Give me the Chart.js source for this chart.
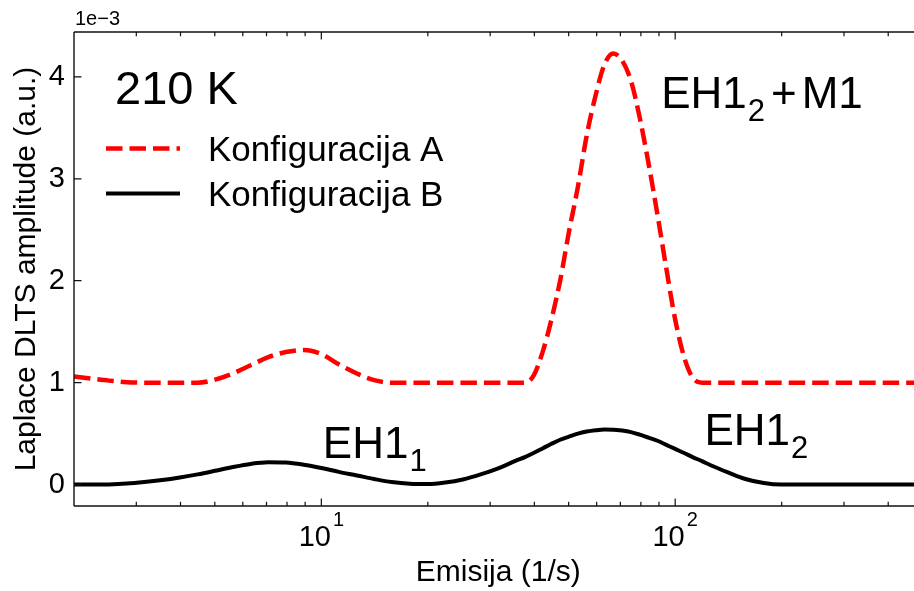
<!DOCTYPE html>
<html><head><meta charset="utf-8">
<script src="https://cdn.jsdelivr.net/npm/chart.js@4.4.1/dist/chart.umd.min.js"></script>
<style>html,body{margin:0;padding:0;background:#fff;overflow:hidden;width:914px;height:591px}canvas{display:block}</style>
</head><body>
<canvas id="c" width="926" height="591"></canvas>
<script>
// ---- data (amplitudes in units of 1e-3) ----
const emission = [2.0, 2.24, 2.51, 2.82, 3.16, 3.55, 3.98, 4.47, 5.01, 5.62, 6.31, 7.08, 7.94, 8.91, 10.0, 11.2, 12.6, 14.1, 15.8, 17.8, 20.0, 22.4, 25.1, 28.2, 31.6, 35.5,
  37.6, 39.8, 42.2, 44.7, 47.3, 50.1, 53.1, 56.2, 59.6, 63.1, 66.8, 70.8, 75.0, 79.4, 84.1, 89.1, 94.4, 100, 106, 112, 119, 126,
  141, 158, 178, 200, 224, 251, 282, 316, 355, 398, 447, 501];
const configA = [1.06, 1.04, 1.02, 1.005, 1.0, 1.0, 1.0, 1.0, 1.03, 1.09, 1.17, 1.25, 1.30, 1.32, 1.28, 1.18, 1.09, 1.025, 1.0, 1.0, 1.0, 1.0, 1.0, 1.0, 1.0, 1.0,
  1.0, 1.07, 1.30, 1.62, 2.0, 2.48, 2.92, 3.42, 3.82, 4.12, 4.23, 4.16, 3.96, 3.60, 3.15, 2.65, 2.12, 1.62, 1.25, 1.05, 1.0, 1.0,
  1.0, 1.0, 1.0, 1.0, 1.0, 1.0, 1.0, 1.0, 1.0, 1.0, 1.0, 1.0];
const configB = [0.0, 0.0, 0.002, 0.01, 0.025, 0.045, 0.07, 0.10, 0.135, 0.172, 0.203, 0.219, 0.216, 0.195, 0.163, 0.125, 0.09, 0.055, 0.025, 0.008, 0.005, 0.02, 0.05, 0.10, 0.16, 0.235,
  0.27, 0.31, 0.355, 0.40, 0.44, 0.47, 0.50, 0.52, 0.533, 0.54, 0.539, 0.53, 0.515, 0.49, 0.46, 0.43, 0.39, 0.35, 0.31, 0.27, 0.23, 0.19,
  0.12, 0.055, 0.015, 0.0, 0.0, 0.0, 0.0, 0.0, 0.0, 0.0, 0.0, 0.0];
const seriesLabels = ['Konfiguracija A', 'Konfiguracija B'];
const yTickValues = [0, 1, 2, 3, 4];
const xMajorTicks = [10, 100];
const xMajorExponents = ['1', '2'];
const xMinorTicks = [3, 4, 5, 6, 7, 8, 9, 20, 30, 40, 50, 60, 70, 80, 90, 200, 300, 400];
const yOffsetText = '1e\u22123';
const xTitle = 'Emisija (1/s)';
const yTitle = 'Laplace DLTS amplitude (a.u.)';
const temperatureLabel = '210 K';
const peakLabels = [
  {base: 'EH1', sub: '1', tail: ''},
  {base: 'EH1', sub: '2', tail: ''},
  {base: 'EH1', sub: '2', tail: 'M1'}
];

// ---- styling / placement ----
const FONT = '"Liberation Sans", Arial, Helvetica, sans-serif';
const peakPlacement = [
  {x: 10.1, y: 0.258},
  {x: 121, y: 0.388},
  {x: 91.3, y: 3.69}
];

const decorPlugin = {
  id: 'decor',
  afterDatasetsDraw(chart) {
    const {ctx, chartArea: ca, scales: {x, y}} = chart;
    ctx.save();
    ctx.strokeStyle = '#111';
    ctx.lineWidth = 1.4;
    ctx.beginPath();
    ctx.moveTo(ca.left, ca.top); ctx.lineTo(ca.right, ca.top);
    ctx.moveTo(ca.left, ca.bottom); ctx.lineTo(ca.right, ca.bottom);
    ctx.moveTo(ca.left, ca.top); ctx.lineTo(ca.left, ca.bottom);
    ctx.moveTo(ca.right, ca.top); ctx.lineTo(ca.right, ca.bottom);
    ctx.stroke();
    ctx.lineWidth = 1.2;
    ctx.beginPath();
    const tick = (v, len) => {
      const px = x.getPixelForValue(v);
      ctx.moveTo(px, ca.bottom); ctx.lineTo(px, ca.bottom - len);
      ctx.moveTo(px, ca.top); ctx.lineTo(px, ca.top + len);
    };
    xMajorTicks.forEach(v => tick(v, 7.5));
    xMinorTicks.forEach(v => tick(v, 4.2));
    yTickValues.forEach(v => {
      const py = y.getPixelForValue(v);
      ctx.moveTo(ca.left, py); ctx.lineTo(ca.left + 7.5, py);
      ctx.moveTo(ca.right, py); ctx.lineTo(ca.right - 7.5, py);
    });
    ctx.stroke();
    ctx.restore();
  },
  afterDraw(chart) {
    const {ctx, chartArea: ca, scales: {x, y}} = chart;
    ctx.save();
    ctx.fillStyle = '#000';
    ctx.textBaseline = 'alphabetic';
    ctx.textAlign = 'left';
    xMajorTicks.forEach((v, i) => {
      const px = x.getPixelForValue(v);
      ctx.font = '29px ' + FONT;
      const w1 = ctx.measureText('10').width;
      ctx.font = '20px ' + FONT;
      const w2 = ctx.measureText(xMajorExponents[i]).width;
      const start = px - (w1 + 2 + w2) / 2;
      ctx.font = '29px ' + FONT;
      ctx.fillText('10', start, ca.bottom + 40);
      ctx.font = '20px ' + FONT;
      ctx.fillText(xMajorExponents[i], start + w1 + 2, ca.bottom + 20);
    });
    ctx.font = '20px ' + FONT;
    ctx.fillText(yOffsetText, ca.left + 1, ca.top - 7);
    ctx.font = '47px ' + FONT;
    ctx.fillText(temperatureLabel, ca.left + 41, ca.top + 71.5);
    peakLabels.forEach((p, i) => {
      const px = x.getPixelForValue(peakPlacement[i].x);
      const py = y.getPixelForValue(peakPlacement[i].y);
      ctx.font = '44px ' + FONT;
      ctx.fillText(p.base, px, py);
      let cx = px + ctx.measureText(p.base).width + 1;
      ctx.font = '31px ' + FONT;
      ctx.fillText(p.sub, cx, py + 13);
      cx += ctx.measureText(p.sub).width;
      if (p.tail) {
        ctx.font = '44px ' + FONT;
        cx += 6;
        ctx.fillText('+', cx, py);
        cx += ctx.measureText('+').width + 5;
        ctx.fillText(p.tail, cx, py);
      }
    });
    chart.data.datasets.forEach((ds, i) => {
      const rowY = ca.top + 116.6 + i * 45;
      ctx.save();
      ctx.strokeStyle = ds.borderColor;
      ctx.lineWidth = ds.borderWidth;
      ctx.setLineDash(ds.borderDash || []);
      ctx.lineCap = 'butt';
      ctx.beginPath();
      ctx.moveTo(ca.left + 32, rowY);
      ctx.lineTo(ca.left + 106, rowY);
      ctx.stroke();
      ctx.restore();
      ctx.font = '35px ' + FONT;
      ctx.fillText(ds.label, ca.left + 134, rowY + 12);
    });
    ctx.restore();
  }
};

new Chart(document.getElementById('c'), {
  type: 'line',
  data: {
    datasets: [
      {label: seriesLabels[0], data: emission.map((e, i) => ({x: e, y: configA[i]})),
       borderColor: '#ff0000', borderWidth: 4.5, borderDash: [16.5, 7], borderCapStyle: 'butt',
       pointRadius: 0, cubicInterpolationMode: 'monotone', fill: false},
      {label: seriesLabels[1], data: emission.map((e, i) => ({x: e, y: configB[i]})),
       borderColor: '#000000', borderWidth: 4, borderCapStyle: 'butt',
       pointRadius: 0, cubicInterpolationMode: 'monotone', fill: false}
    ]
  },
  options: {
    responsive: false,
    animation: false,
    layout: {padding: {top: 32, right: 3.5, left: 0, bottom: 0}},
    plugins: {legend: {display: false}, tooltip: {enabled: false}},
    scales: {
      x: {
        type: 'logarithmic', min: 2, max: 500,
        grid: {display: false}, border: {display: false},
        ticks: {display: false},
        title: {display: true, text: xTitle, color: '#000', font: {family: FONT, size: 30}, padding: {top: 0, bottom: 0}},
        afterFit(s) { s.height = 85; }
      },
      y: {
        type: 'linear', min: -0.21, max: 4.44,
        grid: {display: false, drawTicks: false}, border: {display: false},
        afterBuildTicks(s) { s.ticks = yTickValues.map(v => ({value: v})); },
        ticks: {color: '#000', font: {family: FONT, size: 29}, padding: 9, callback: v => String(v)},
        title: {display: true, text: yTitle, color: '#000', font: {family: FONT, size: 30}, padding: {top: 9, bottom: 0}},
        afterFit(s) { s.width = 74; }
      }
    }
  },
  plugins: [decorPlugin]
});
</script>
</body></html>
